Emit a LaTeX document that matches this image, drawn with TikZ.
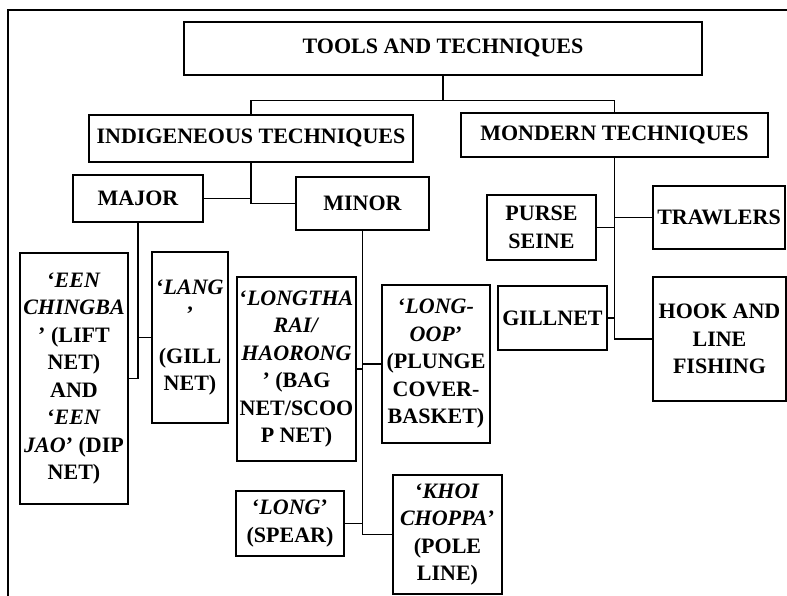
\documentclass[tikz,border=0pt]{standalone}
\usepackage{fontspec}
\setmainfont{Liberation Serif}
\begin{document}
\begin{tikzpicture}[x=1pt,y=-1pt,line width=1.5pt,
  box/.style={draw,align=center,inner sep=1pt,font=\fontsize{22}{27.5}\selectfont\bfseries}]
  \useasboundingbox (0,0) rectangle (787,596);
  \draw (8,596) -- (8,10) -- (787,10);
  \node[box,minimum width=518pt,minimum height=53pt] (tools) at (443,48.5) {TOOLS AND TECHNIQUES};
  \node[box,minimum width=324pt,minimum height=47pt] (indig) at (251,138.5) {INDIGENEOUS TECHNIQUES};
  \node[box,minimum width=307pt,minimum height=44pt] (modern) at (614.5,135) {MONDERN TECHNIQUES};
  \node[box,minimum width=130pt,minimum height=47pt] (major) at (138,198.5) {MAJOR};
  \node[box,minimum width=133pt,minimum height=53pt] (minor) at (362.5,203.5) {MINOR};
  \node[box,minimum width=108pt,minimum height=251pt] (een) at (74,378.5)
    {‘\textit{EEN}\\\textit{CHINGBA}\\’ (LIFT\\NET)\\AND\\‘\textit{EEN}\\\textit{JAO}’ (DIP\\NET)};
  \node[box,minimum width=76pt,minimum height=171pt] (lang) at (190,337.5)
    {‘\textit{LANG}\\’\\[14pt](GILL\\NET)};
  \node[box,minimum width=119pt,minimum height=184pt] (longtharai) at (296.5,369)
    {‘\textit{LONGTHA}\\\textit{RAI/}\\\textit{HAORONG}\\’ (BAG\\NET/SCOO\\P NET)};
  \node[box,minimum width=108pt,minimum height=158pt] (longoop) at (436,364)
    {‘\textit{LONG-}\\\textit{OOP}’\\(PLUNGE\\COVER-\\BASKET)};
  \node[box,minimum width=108pt,minimum height=65pt] (spear) at (290,523.5)
    {‘\textit{LONG}’\\(SPEAR)};
  \node[box,minimum width=109pt,minimum height=119pt] (khoi) at (447.5,534.5)
    {‘\textit{KHOI}\\\textit{CHOPPA}’\\(POLE\\LINE)};
  \node[box,minimum width=109pt,minimum height=65pt] (purse) at (541.5,227.5) {PURSE\\SEINE};
  \node[box,minimum width=132pt,minimum height=63pt] (trawlers) at (719,217.5) {TRAWLERS};
  \node[box,minimum width=109pt,minimum height=64pt] (gillnet) at (552.5,318) {GILLNET};
  \node[box,minimum width=133pt,minimum height=124pt] (hook) at (719.5,339) {HOOK AND\\LINE\\FISHING};
  \draw (tools.south) -- ++(0,25) coordinate (tsplit);
  \draw (indig.north) |- (tsplit) -| (modern.north);
  \draw (major.east) -| (indig.south) |- (minor.west);
  \draw (een.east) -| (major.south) |- (lang.west);
  \draw (minor.south) |- (khoi.west);
  \draw (longtharai.east) -| (minor.south);
  \draw (longoop.west) -| (minor.south);
  \draw (spear.east) -| (minor.south);
  \draw (modern.south) |- (hook.west);
  \draw (purse.east) -| (modern.south);
  \draw (trawlers.west) -| (modern.south);
  \draw (gillnet.east) -| (modern.south);
\end{tikzpicture}
\end{document}
